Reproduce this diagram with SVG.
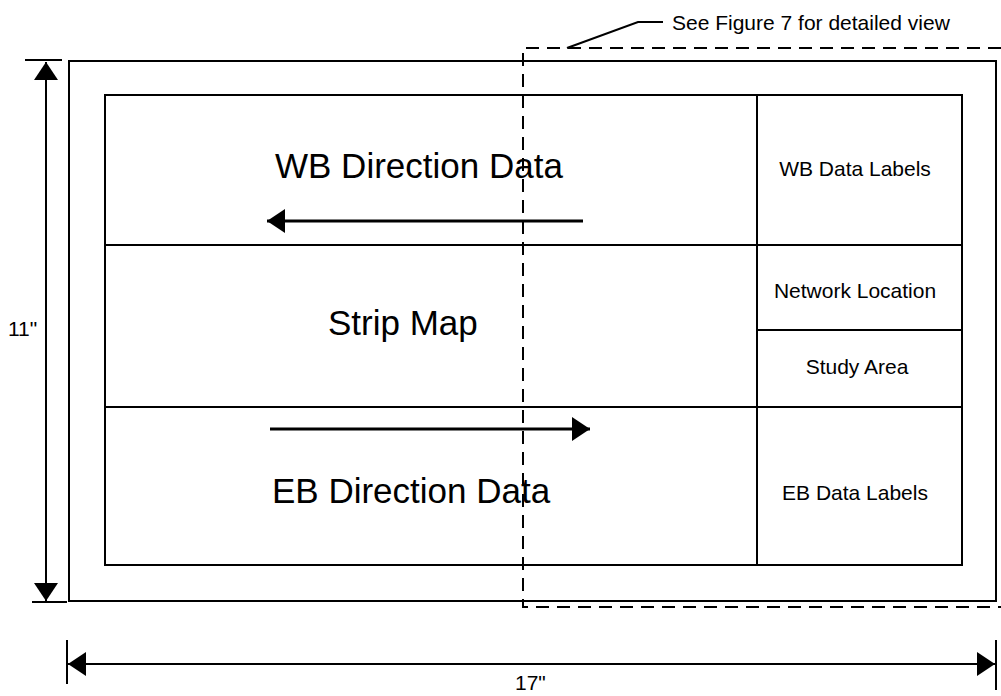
<svg xmlns="http://www.w3.org/2000/svg" width="1001" height="696" viewBox="0 0 1001 696">
<style>
.box{fill:none;stroke:#000;stroke-width:2}
.ln{stroke:#000;stroke-width:2;fill:none}
.flow{stroke:#000;stroke-width:3;fill:none}
.dash{stroke:#000;stroke-width:2;fill:none;stroke-dasharray:13 8}
.big{font-family:"Liberation Sans",Arial,sans-serif;font-size:35px;fill:#000}
.lbl{font-family:"Liberation Sans",Arial,sans-serif;font-size:21px;fill:#000;text-anchor:middle}
.dim{font-family:"Liberation Sans",Arial,sans-serif;font-size:21px;fill:#000}
</style>
<defs>
<marker id="ah" viewBox="0 0 18 24" markerUnits="userSpaceOnUse" markerWidth="18" markerHeight="24" refX="18" refY="12" orient="auto-start-reverse">
<path d="M0,0 L18,12 L0,24 z" fill="#000"/>
</marker>
</defs>
<rect width="1001" height="696" fill="#fff"/>
<g id="sheet">
<rect class="box" x="69" y="61" width="927" height="540"/>
</g>
<g id="layout">
<rect class="box" x="105" y="95" width="857" height="470"/>
</g>
<g id="wb-direction-data">
<line class="ln" x1="105" y1="245" x2="757" y2="245"/>
<text class="big" x="275" y="178">WB Direction Data</text>
</g>
<g id="strip-map">
<line class="ln" x1="105" y1="407" x2="757" y2="407"/>
<text class="big" x="328" y="335">Strip Map</text>
</g>
<g id="eb-direction-data">
<text class="big" x="272" y="503">EB Direction Data</text>
</g>
<g id="label-column">
<line class="ln" x1="757" y1="95" x2="757" y2="565"/>
</g>
<g id="wb-data-labels">
<line class="ln" x1="757" y1="245" x2="962" y2="245"/>
<text class="lbl" x="855" y="176">WB Data Labels</text>
</g>
<g id="network-location">
<line class="ln" x1="757" y1="330" x2="962" y2="330"/>
<text class="lbl" x="855" y="298">Network Location</text>
</g>
<g id="study-area">
<line class="ln" x1="757" y1="407" x2="962" y2="407"/>
<text class="lbl" x="857" y="374">Study Area</text>
</g>
<g id="eb-data-labels">
<text class="lbl" x="855" y="500">EB Data Labels</text>
</g>
<g id="detail-region">
<path class="dash" d="M1001,48 L523,48 L523,607 L1001,607"/>
<text class="dim" x="672" y="30">See Figure 7 for detailed view</text>
</g>
<g id="dim-height">
<text class="dim" x="8" y="336">11"</text>
</g>
<g id="dim-width">
<text class="dim" x="515" y="690">17"</text>
</g>
<g id="connectors">
<line class="flow" x1="583" y1="221" x2="267" y2="221" marker-end="url(#ah)"/>
<line class="flow" x1="270" y1="429" x2="590" y2="429" marker-end="url(#ah)"/>
<polyline class="ln" points="567,48 638,22 663,22"/>
<line class="ln" x1="25" y1="60" x2="62" y2="60"/>
<line class="ln" x1="32" y1="602" x2="67" y2="602"/>
<line class="ln" x1="46" y1="62" x2="46" y2="601" marker-start="url(#ah)" marker-end="url(#ah)"/>
<line class="ln" x1="67" y1="640" x2="67" y2="684"/>
<line class="ln" x1="996" y1="640" x2="996" y2="690"/>
<line class="ln" x1="68" y1="664" x2="995" y2="664" marker-start="url(#ah)" marker-end="url(#ah)"/>
</g>
</svg>
